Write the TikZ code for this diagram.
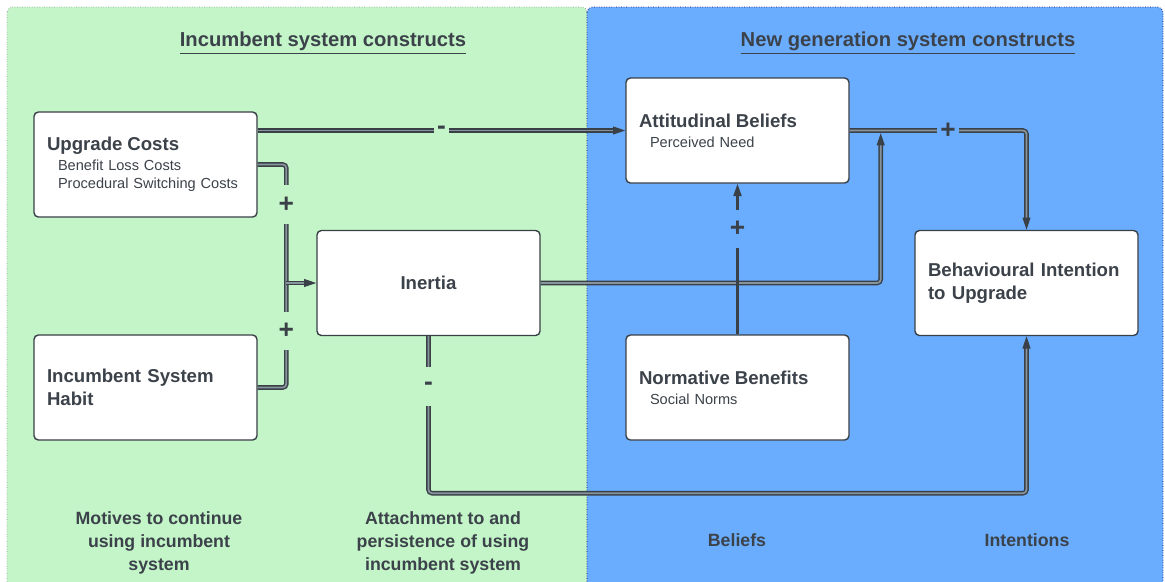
\documentclass[tikz,border=0pt]{standalone}
\usepackage{fontspec}
\setmainfont{Liberation Sans}
\usepackage{tikz}
\usetikzlibrary{arrows.meta,positioning,calc}
\definecolor{incgreen}{RGB}{195,245,200}
\definecolor{newblue}{RGB}{106,173,254}
\definecolor{linegray}{RGB}{58,64,72}
\definecolor{textgray}{RGB}{60,66,74}
\definecolor{midgray}{RGB}{135,148,156}
\tikzstyle{construct}=[rectangle, draw=linegray, line width=0.8pt, fill=white, rounded corners=2.5pt, text width=3.94cm, inner xsep=0.26cm, inner ysep=0pt, minimum height=2.1cm, align=left, text=textgray, font=\fontsize{8.3}{10.2}\selectfont]
\tikzstyle{bigfont}=[font=\fontsize{10.6}{13}\selectfont\bfseries]
\tikzstyle{dline}=[draw=linegray, line width=0.8pt, double=midgray, double distance=1pt, rounded corners=2pt]
\tikzstyle{arrowtip}=[-{Triangle[length=7pt,width=4.5pt]}]
\tikzstyle{heading}=[font=\fontsize{11.5}{14}\selectfont\bfseries, text=textgray]
\tikzstyle{caption}=[align=center, font=\fontsize{10.1}{13}\selectfont\bfseries, text=textgray]
\tikzset{polarity/.style={fill=#1, text=linegray, font=\fontsize{15}{15}\selectfont\bfseries, inner xsep=2pt, inner ysep=0pt, minimum height=22pt, rounded corners=0pt}}
\newcommand{\ctitle}[1]{{\fontsize{10.6}{13}\selectfont\bfseries #1}}

\begin{document}
\begin{tikzpicture}

\useasboundingbox (0,0) rectangle (23.3,-11.62);
\clip (0,0) rectangle (23.3,-11.62);

% panels
\draw[fill=incgreen, draw=gray!80, densely dotted, rounded corners=3pt] (0.14,-0.14) rectangle (11.74,-12);
\draw[fill=newblue, draw=blue!45!black, densely dotted, rounded corners=3pt] (11.74,-0.14) rectangle (23.26,-12);

\node[heading] (inchead) at (6.46,-0.86) {\underline{Incumbent system constructs}};
\node[heading] (newhead) at (18.16,-0.86) {\underline{New generation system constructs}};

% constructs
\node[construct] (upg) at (2.91,-3.29) {\ctitle{Upgrade Costs}\\[1pt]
  \hspace*{0.22cm}Benefit Loss Costs\\ \hspace*{0.22cm}Procedural Switching Costs};
\node[construct, bigfont, align=center] (inertia) at (8.57,-5.66) {Inertia};
\node[construct, bigfont] (habit) at (2.91,-7.75) {Incumbent System\\ Habit};
\node[construct] (att) at (14.75,-2.61) {\ctitle{Attitudinal Beliefs}\\[1pt] \hspace*{0.22cm}Perceived Need};
\node[construct] (norm) at (14.75,-7.75) {\ctitle{Normative Benefits}\\[1pt] \hspace*{0.22cm}Social Norms};
\node[construct, bigfont] (bi) at (20.53,-5.66) {Behavioural Intention\\ to Upgrade};

\coordinate (jin) at ($(inertia.west)+(-0.6,0)$);
\coordinate (jatt) at ($(att.east)+(0.62,0)$);

% links
\draw[dline, arrowtip] (upg.east |- att.west) -- node[polarity=incgreen, pos=0.5]{-} (att.west);
\draw[dline] (upg.east) -| node[polarity=incgreen, pos=0.67]{+} (jin);
\draw[dline] (habit.east) -| node[polarity=incgreen, pos=0.77]{+} (jin);
\draw[dline, arrowtip] (jin) -- (inertia.west);
\draw[dline, arrowtip, shorten >=1.5pt] (inertia.east) -| (jatt);
\draw[dline, arrowtip] (att.east) -| node[polarity=newblue, pos=0.278]{+} (bi.north);
\draw[draw=linegray, line width=1.3pt, arrowtip] (norm.north) -- node[polarity=newblue, pos=0.7]{+} (att.south);
\draw[dline, arrowtip] (inertia.south) -- node[polarity=incgreen, pos=0.32]{-} ++(0,-3.14) -| (bi.south);

% bottom row
\node[caption] (motives) at (3.18,-10.86) {Motives to continue\\ using incumbent\\ system};
\node[caption] (attach) at (8.86,-10.86) {Attachment to and\\ persistence of using\\ incumbent system};
\node[caption] (beliefs) at (14.74,-10.8) {Beliefs};
\node[caption] (intent) at (20.54,-10.8) {Intentions};

\end{tikzpicture}
\end{document}
